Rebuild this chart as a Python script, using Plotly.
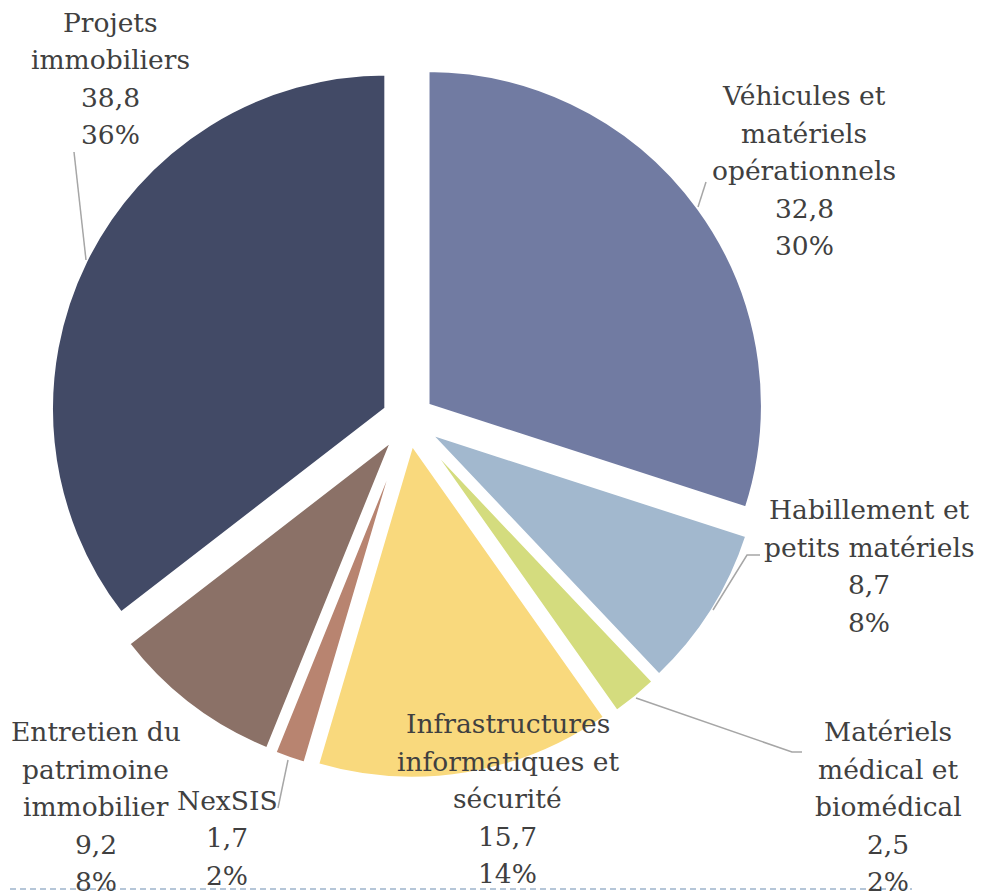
import plotly.graph_objects as go

# ---- data ----
categories = [
    "Véhicules et<br>matériels<br>opérationnels",
    "Habillement et<br>petits matériels",
    "Matériels<br>médical et<br>biomédical",
    "Infrastructures<br>informatiques et<br>sécurité",
    "NexSIS",
    "Entretien du<br>patrimoine<br>immobilier",
    "Projets<br>immobiliers",
]
values = [32.8, 8.7, 2.5, 15.7, 1.7, 9.2, 38.8]
percent_labels = ["30%", "8%", "2%", "14%", "2%", "8%", "36%"]
colors = ["#717BA2", "#A2B8CE", "#D4DC7E", "#F9D97D", "#B88470", "#8B7167", "#424A66"]

W, H = 982, 894
OFF = 8  # page body margin: screen pixel = figure pixel + OFF


def px(x):
    return (x - OFF) / W


def py(y):
    return 1 - (y - OFF) / H


# pie geometry (screen pixels)
CX, CY, SIDE = 408, 419.5, 719
PULL = 0.072

fig = go.Figure(go.Pie(
    labels=[c.replace("<br>", " ") for c in categories],
    values=values,
    sort=False,
    direction="clockwise",
    rotation=0,
    pull=[PULL] * len(values),
    marker=dict(colors=colors, line=dict(color="white", width=4)),
    textinfo="none",
    hoverinfo="label+value+percent",
    showlegend=False,
    domain=dict(
        x=[px(CX - SIDE / 2), px(CX + SIDE / 2)],
        y=[py(CY + SIDE / 2), py(CY - SIDE / 2)],
    ),
))

# label block centers (screen pixels) for each category, in data order
label_centers = [(804, 170.5), (869, 566), (888, 806.5), (507.5, 798.5),
                 (227, 837.5), (95.5, 806.5), (110, 78.5)]
LINE_H = 37.5

annotations = []
for cat, val, pct, (lx, ly) in zip(categories, values, percent_labels, label_centers):
    lines = cat.split("<br>") + [f"{val:.1f}".replace(".", ","), pct]
    n = len(lines)
    for i, t in enumerate(lines):
        y = ly + (i - (n - 1) / 2) * LINE_H
        annotations.append(dict(
            x=px(lx), y=py(y), xref="paper", yref="paper",
            text=t, showarrow=False, xanchor="center", yanchor="middle",
            font=dict(family="DejaVu Serif", size=26.5, color="#404040"),
        ))

# leader lines (screen pixels)
leaders = [
    [(706, 182), (698, 207)],
    [(760, 555), (747, 555), (713, 610)],
    [(802, 752), (792, 752), (636, 698)],
    [(278, 808), (288, 760)],
    [(74, 152), (86, 260)],
]
shapes = []
for pts in leaders:
    path = "M " + " L ".join(f"{px(x)} {py(y)}" for x, y in pts)
    shapes.append(dict(type="path", path=path, xref="paper", yref="paper",
                       line=dict(color="#A6A6A6", width=1.5)))

# dashed rule at bottom
shapes.append(dict(type="line", xref="paper", yref="paper",
                   x0=px(0), x1=px(912), y0=py(889), y1=py(889),
                   line=dict(color="#9DB4CC", width=1.5, dash="6px,4px")))

fig.update_layout(
    width=W, height=H,
    margin=dict(l=0, r=0, t=0, b=0),
    paper_bgcolor="white",
    plot_bgcolor="white",
    annotations=annotations,
    shapes=shapes,
)

fig.write_html("out.html")
